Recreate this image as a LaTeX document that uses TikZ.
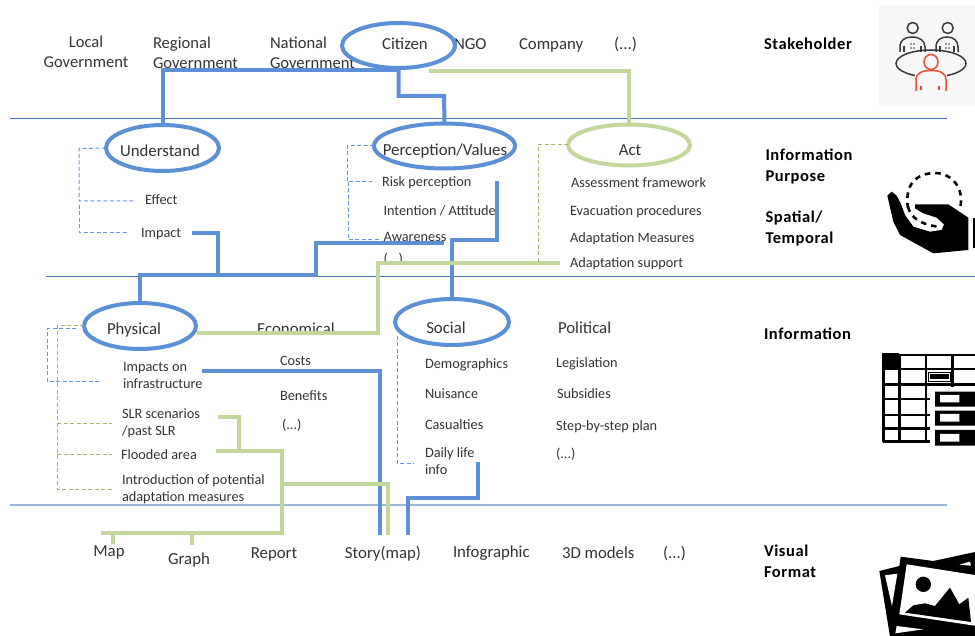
\documentclass[tikz,border=0pt]{standalone}
\usepackage{fontspec}
\setmainfont{Carlito}
\newfontfamily\headfont[LetterSpace=3.5]{Carlito}
\usetikzlibrary{shapes.geometric}
\definecolor{bl}{HTML}{5B8FD6}
\definecolor{gr}{HTML}{C3D69B}
\definecolor{rule}{HTML}{4472B4}
\definecolor{rulelt}{HTML}{9AB8DC}
\definecolor{dashb}{HTML}{5F97E4}
\definecolor{dashg}{HTML}{A0B868}
\definecolor{ink}{HTML}{333333}
\definecolor{icong}{HTML}{3A3A3A}
\definecolor{iconr}{HTML}{EE4B36}
\definecolor{iconbg}{HTML}{F7F7F7}
\tikzset{
  big/.style={inner sep=0,outer sep=0,text=ink,font=\fontsize{16.8}{20}\selectfont,text height=14pt,text depth=3pt},
  bigm/.style={inner sep=0,outer sep=0,text=ink,font=\fontsize{16.6}{20}\selectfont,align=left},
  small/.style={inner sep=0,outer sep=0,text=ink,font=\fontsize{14.3}{17}\selectfont,text height=13pt,text depth=3pt,anchor=west},
  smallm/.style={inner sep=0,outer sep=0,text=ink,font=\fontsize{14.3}{17}\selectfont,align=left,anchor=west},
  head/.style={inner sep=0,outer sep=0,text=black,font=\headfont\bfseries\fontsize{16.5}{20.5}\selectfont,align=left,anchor=west},
  ell/.style={ellipse,draw,fill=white,line width=4pt,inner sep=0,outer sep=0},
  bline/.style={draw=bl,line width=4pt,line join=miter},
  gline/.style={draw=gr,line width=4pt,line join=miter},
  bdash/.style={draw=dashb,line width=1pt,dash pattern=on 4pt off 2.5pt},
  gdash/.style={draw=dashg,line width=1pt,dash pattern=on 4pt off 2.5pt},
  hrule/.style={draw=rule,line width=1pt},
}
\begin{document}
\begin{tikzpicture}[x=1pt,y=-1pt]
\useasboundingbox (0,0) rectangle (975,636);
\clip (0,0) rectangle (975,636);
% rules
\draw[hrule] (10,119) -- (947,119);
\draw[hrule] (46,277) -- (975,277);
\draw[hrule,draw=rulelt,line width=1.4pt] (10,505) -- (947,505);
% top row
\node[bigm,align=center] (local) at (86,52) {Local\\Government};
\node[bigm,anchor=west] (regional) at (153,53) {Regional\\Government};
\node[bigm,anchor=west] (national) at (270,53) {National\\Government};
\node[big,anchor=west] (ngo) at (454,44) {NGO};
\node[big,anchor=west] (company) at (519,44) {Company};
\node[big,anchor=west] (etctop) at (614,44) {(...)};
% understand
\node[small] (effect) at (145,200) {Effect};
\node[small] (impact) at (141,233) {Impact};
% perception
\node[small] (risk) at (382,182) {Risk perception};
\node[small] (intention) at (383.5,211) {Intention / Attitude};
\node[small] (awareness) at (383.5,237) {Awareness};
\node[small] (etcperc) at (383.5,259) {(...)};
% act
\node[small] (assess) at (571,183) {Assessment framework};
\node[small] (evac) at (570,211) {Evacuation procedures};
\node[small] (adaptm) at (570,238) {Adaptation Measures};
\node[small] (adapts) at (570,263) {Adaptation support};
% info columns
\node[big,anchor=center] (econ) at (296,329) {Economical};
\node[big,anchor=west] (political) at (558,328) {Political};
\node[smallm] (infra) at (123,375.5) {Impacts on\\infrastructure};
\node[smallm] (slr) at (122,423.5) {SLR scenarios\\/past SLR};
\node[small] (flooded) at (121,454) {Flooded area};
\node[smallm] (intro) at (122,489) {Introduction of potential\\adaptation measures};
\node[small] (costs) at (280,361) {Costs};
\node[small] (benefits) at (280,395) {Benefits};
\node[small] (etcecon) at (282,424) {(...)};
\node[small] (demo) at (425,364) {Demographics};
\node[small] (nuis) at (425,394) {Nuisance};
\node[small] (casual) at (425,424) {Casualties};
\node[smallm] (daily) at (425,461.5) {Daily life\\info};
\node[small] (legis) at (556,362) {Legislation};
\node[small] (subs) at (557,394) {Subsidies};
\node[small] (stepplan) at (556,425) {Step-by-step plan};
\node[small] (etcpol) at (556,453) {(...)};
% visual formats
\node[big,anchor=center] (map) at (109,551) {Map};
\node[big,anchor=center] (graph) at (189,559) {Graph};
\node[big,anchor=center] (report) at (274,553) {Report};
\node[big,anchor=center] (story) at (383,553) {Story(map)};
\node[big,anchor=west] (infog) at (453,552) {Infographic};
\node[big,anchor=west] (models) at (562,553) {3D models};
\node[big,anchor=west] (etcfmt) at (663,553) {(...)};
% right labels
\node[head] (stake) at (764,44) {Stakeholder};
\node[head] (purpose) at (765.5,166.5) {Information\\Purpose};
\node[head] (spatial) at (765.5,228.5) {Spatial/\\Temporal};
\node[head] (info) at (764,334) {Information};
\node[head] (format) at (764,561.5) {Visual\\Format};
% cut-offs of the text
\fill[white] (150,70) rectangle (360,78);
\fill[white] (250,333) rectangle (345,340);
\fill[white] (380,264) rectangle (410,273);
% ellipses
\node[ell,draw=bl,minimum width=113pt,minimum height=45pt] (citizen) at (398.5,45.5) {};
\node[big,anchor=center] (citizenT) at (405,44) {Citizen};
\node[ell,draw=bl,minimum width=113pt,minimum height=46pt] (understand) at (162.5,148) {};
\node[big,anchor=center] (understandT) at (160,151) {Understand};
\node[ell,draw=bl,minimum width=141pt,minimum height=45pt] (perception) at (444.5,146) {};
\node[big,anchor=center] (perceptionT) at (445,150) {Perception/Values};
\node[ell,draw=gr,minimum width=122pt,minimum height=41pt] (act) at (629,145) {};
\node[big,anchor=center] (actT) at (630,150) {Act};
\node[ell,draw=bl,minimum width=112pt,minimum height=46pt] (physical) at (140,326) {};
\node[big,anchor=center] (physicalT) at (134,329) {Physical};
\node[ell,draw=bl,minimum width=114pt,minimum height=46pt] (social) at (452,322) {};
\node[big,anchor=center] (socialT) at (446,328) {Social};
% coordinates
\coordinate (juncA) at (218,275);
\coordinate (awareEnd) at (444,243);
\coordinate (floodTop) at (239,450.5);
\coordinate (junR) at (282,484);
\coordinate (fmtLeft) at (101,533);
% thick connectors
\draw[bline] ([yshift=-2pt]citizen.south) -| (understand.north);
\draw[bline] ([yshift=-2pt]citizen.south) |- (444,96) -- (perception.north);
\draw[gline] ([xshift=30pt,yshift=-3pt]citizen.south) -| (act.north);
\draw[bline] (192,233) -| (juncA) -| (physical.north);
\draw[bline] (awareEnd) -- (316,243) |- (juncA);
\draw[bline] (497,181) |- (452,240) -- (social.north);
\draw[gline] ([xshift=-10pt]adapts.west) -- (378,263) |- (197,333);
\draw[bline] (202,371) -- (380,371) -- (380,535);
\draw[bline] (478,462) |- (408,498) -- (408,535);
\draw[gline] (218,417) -- (239,417) -- (floodTop);
\draw[gline] (216,451) -- (282,451) |- (fmtLeft);
\draw[gline] (junR) -- (388,484) -- (388,535);
\draw[gline] (113,533) -- (113,544);
\draw[gline] (192,533) -- (192,545);
% dashed connectors
\draw[bdash] (understand.west) -- (79,148.5) |- (134,201);
\draw[bdash] (79,205) |- (128,233);
\draw[bdash] (perception.west) -- (347,146) |- (372,182);
\draw[bdash] (348,182) |- (381,240);
\draw[gdash] (act.west) -- (538,145) -- (538,263);
\draw[bdash] (76,329) -- (47,329) |- (101,382);
\draw[gdash] (physical.west) -- (57,326) |- (112,489);
\draw[gdash] (57,423) -- (112,423);
\draw[gdash] (57,454) -- (112,454);
\draw[bdash] (397,336) |- (414,463);
% stakeholder icon
\fill[iconbg] (879,5) rectangle (975,106);
\begin{scope}[line width=1.5pt,draw=icong]
\draw (912.7,28) circle[radius=5.5];
\draw (947.7,28) circle[radius=5.5];
\draw (900,52) -- (900,47) .. controls (900,40) and (905,37) .. (912,37) .. controls (920,37) and (925,41) .. (925,47) -- (925,52);
\draw (936,52) -- (936,47) .. controls (936,40) and (941,37) .. (947,37) .. controls (954,37) and (958,41) .. (958,47) -- (958,52);
\draw (931,63.5) ellipse[x radius=35,y radius=13.5];
\fill[icong] (911,44) circle[radius=.8] (914,44) circle[radius=.8] (911,48) circle[radius=.8] (914,48) circle[radius=.8];
\fill[icong] (946,44) circle[radius=.8] (949,44) circle[radius=.8] (946,48) circle[radius=.8] (949,48) circle[radius=.8];
\draw (904,46) -- (904,52) (921,46) -- (921,52) (940,46) -- (940,52) (954,46) -- (954,52);
\end{scope}
\fill[iconbg] (915,72) rectangle (947,92);
\begin{scope}[line width=1.5pt,draw=iconr]
\draw (931,62) ellipse[x radius=7,y radius=7.5];
\draw (916,91) -- (916,80) .. controls (916,73) and (922,70.5) .. (931,70.5) .. controls (940,70.5) and (946,73) .. (946,80) -- (946,91);
\draw (921,86) -- (921,90) (939,86) -- (939,90);
\end{scope}
% hand icon
\begin{scope}[shift={(880,165)},x=.3333pt,y=-.3333pt]
\fill[black] (22,92) -- (35,80) -- (50,92) -- (62,115) -- (75,150) -- (100,185) -- (150,200) -- (185,195) -- (192,178) -- (170,158) -- (130,145) -- (105,130) -- (105,118) -- (205,118) -- (265,158) -- (265,255) -- (160,265) -- (60,210) -- (40,170) -- cycle;
\fill[black] (278,160) rectangle (284,250);
\draw[line width=2.6pt,dash pattern=on 5.5pt off 5pt] (84,130) .. controls (70,40) and (130,24) .. (165,24) .. controls (215,24) and (255,70) .. (240,130);
\draw[line width=2.6pt,dash pattern=on 5.5pt off 5pt] (84,125) .. controls (92,160) and (125,180) .. (182,186);
\end{scope}
% table icon
\begin{scope}[shift={(875,345)},x=.3333pt,y=-.3333pt]
\fill[black] (22,25) rectangle (73,72);
\draw[line width=2.8pt,line join=round] (300,30) -- (26,30) -- (26,290) -- (165,290);
\draw[line width=2.8pt] (73,30) -- (73,290) (153,30) -- (153,290) (233,30) -- (233,125);
\draw[line width=2.8pt] (26,72) -- (300,72) (26,118) -- (300,118) (26,162) -- (165,162) (26,210) -- (165,210) (26,250) -- (165,250);
\fill[white] (157,78) rectangle (229,112);
\draw[line width=1.2pt] (160,82) rectangle (226,110);
\fill[black] (165,88) rectangle (222,103);
\fill[white] (168,125) rectangle (305,190);
\fill[black] (180,140) rectangle (305,185) (180,197) rectangle (305,242) (180,255) rectangle (305,302);
\fill[white] (195,150) rectangle (253,172) (195,207) rectangle (253,230) (195,267) rectangle (253,290);
\end{scope}
% photo icon
\begin{scope}[shift={(870,546)},x=.3333pt,y=-.3333pt]
\fill[black] (28,75) -- (88,60) -- (92,32) -- (190,45) -- (315,18) -- (320,18) -- (320,272) -- (60,272) -- cycle;
\fill[white] (110,55) -- (320,88) -- (320,240) -- (88,205) -- cycle;
\fill[white] (45,88) -- (82,83) -- (66,180) -- cycle;
\fill[white] (80,240) -- (160,250) -- (76,262) -- cycle;
\fill[white] (268,56) -- (300,47) -- (303,59) -- cycle;
\fill[black] (160,115) circle[radius=23];
\fill[black] (105,200) -- (130,178) -- (165,172) -- (195,180) -- (240,125) -- (268,175) -- (295,155) -- (303,228) -- cycle;
\end{scope}
\end{tikzpicture}
\end{document}
